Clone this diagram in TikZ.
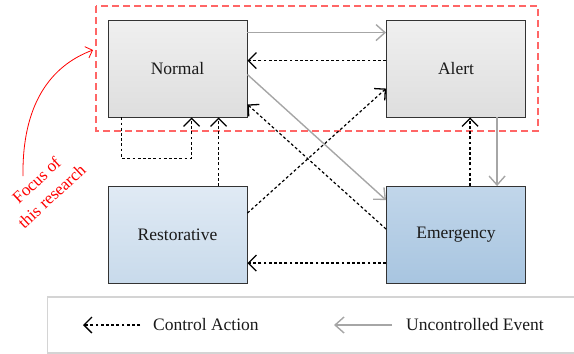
\documentclass[tikz,border=0pt]{standalone}
\usepackage{fontspec}
\setmainfont{Liberation Serif}
\usetikzlibrary{arrows.meta}
\definecolor{txt}{HTML}{1A1A1A}
\definecolor{evgray}{HTML}{A6A6A6}
\definecolor{focusred}{HTML}{FF6666}
\definecolor{legendgray}{HTML}{D4D4D4}
\tikzset{
  statebox/.style={draw=black!80, line width=0.9pt, minimum width=139pt, minimum height=97pt,
    inner sep=0pt, text=txt, font=\fontsize{17.5}{21}\selectfont},
  grayst/.style={statebox, top color=white!94!black, bottom color=white!87!black},
  restst/.style={statebox, top color={rgb,255:red,224;green,234;blue,244}, bottom color={rgb,255:red,200;green,218;blue,235}},
  emerst/.style={statebox, top color={rgb,255:red,193;green,214;blue,234}, bottom color={rgb,255:red,168;green,197;blue,224}},
  ctrl/.style={draw=black, line width=1.2pt, dash pattern=on 2.8pt off 2.4pt,
    -{Straight Barb[length=8pt,width=16pt,line width=1.3pt]}},
  unctrl/.style={draw=evgray, line width=1.4pt,
    -{Straight Barb[length=9pt,width=16pt,line width=1.4pt]}},
  legtext/.style={anchor=west, text=txt, font=\fontsize{17.5}{21}\selectfont, inner sep=0pt}
}
\begin{document}
\begin{tikzpicture}[x=1pt,y=-1pt]
\useasboundingbox (0,0) rectangle (574,354);
% focus box
\draw[focusred, line width=1.2pt, dash pattern=on 7pt off 4pt] (96,6) rectangle (538,131);
% legend box
\draw[legendgray, line width=1.4pt] (580,297) -- (47.5,297) -- (47.5,353) -- (580,353);
% states
\node[grayst] (N) at (177.5,68.5) {Normal};
\node[grayst] (A) at (456,68.5) {Alert};
\node[restst] (R) at (177.5,235) {Restorative};
\node[emerst] (E) at (456,235) {Emergency};
% uncontrolled events
\draw[unctrl] ([yshift=-13pt]N.north east) -- ([yshift=-13pt]A.north west);
\draw[unctrl] ([yshift=-55pt]N.north east) -- ([yshift=-14pt]E.north west);
\draw[unctrl] ([xshift=111pt]A.south west) -- ([xshift=111pt]E.north west);
% control actions
\draw[ctrl] ([yshift=-41pt]A.north west) -- ([yshift=-41pt]N.north east);
\draw[ctrl] ([yshift=-43pt]E.north west) -- ([yshift=13pt]N.south east);
\draw[ctrl] ([yshift=-27pt]R.north east) -- ([yshift=-69pt]A.north west);
\draw[ctrl] ([yshift=-77pt]E.north west) -- ([yshift=-77pt]R.north east);
\draw[ctrl] ([xshift=111pt]R.north west) -- ([xshift=111pt]N.south west);
\draw[ctrl] ([xshift=84pt]E.north west) -- ([xshift=84pt]A.south west);
\coordinate (loopstart) at ([xshift=14pt]N.south west);
\draw[ctrl] (loopstart) -- ++(0,41) -| ([xshift=84pt]N.south west);
% focus annotation
\coordinate (fa) at (23,176);
\coordinate (fb) at (93,50);
\draw[red, line width=0.8pt, -{Straight Barb[length=6pt,width=12pt,line width=0.8pt]}]
  (fa) .. controls (22,105) and (50,66) .. (fb);
\node[red, rotate=43, align=center, font=\fontsize{17}{22}\selectfont, inner sep=0pt] (focus) at (44,188) {Focus of\\this research};
% legend
\coordinate (c1) at (140,325);
\coordinate (c2) at (83,325);
\draw[ctrl] (c1) -- (c2);
\node[legtext] (lc) at (153,325) {Control Action};
\coordinate (u1) at (392,325);
\coordinate (u2) at (334,325);
\draw[unctrl] (u1) -- (u2);
\node[legtext] (lu) at (406,325) {Uncontrolled Event};
\end{tikzpicture}
\end{document}
